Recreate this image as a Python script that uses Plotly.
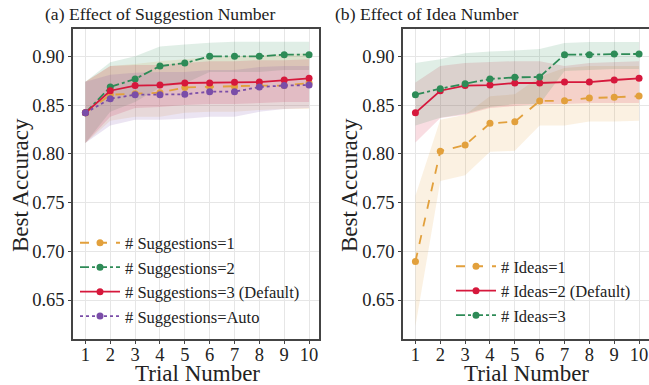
import plotly.graph_objects as go

trials = [1, 2, 3, 4, 5, 6, 7, 8, 9, 10]

# Panel (a): Effect of Suggestion Number
s1_mean = [0.842, 0.8606, 0.8616, 0.8627, 0.868, 0.8688, 0.869, 0.870, 0.870, 0.8726]
s1_up = [0.874, 0.890, 0.892, 0.895, 0.897, 0.899, 0.900, 0.901, 0.902, 0.903]
s1_lo = [0.811, 0.834, 0.838, 0.838, 0.842, 0.843, 0.843, 0.845, 0.846, 0.846]

s2_mean = [0.842, 0.8685, 0.8767, 0.890, 0.893, 0.900, 0.900, 0.900, 0.9017, 0.9017]
s2_up = [0.874, 0.894, 0.900, 0.910, 0.912, 0.914, 0.915, 0.915, 0.915, 0.915]
s2_lo = [0.811, 0.843, 0.853, 0.868, 0.872, 0.884, 0.884, 0.884, 0.886, 0.886]

s3_mean = [0.842, 0.8647, 0.870, 0.8705, 0.8726, 0.8726, 0.8733, 0.8736, 0.8757, 0.8774]
s3_up = [0.874, 0.890, 0.891, 0.891, 0.893, 0.895, 0.895, 0.896, 0.896, 0.897]
s3_lo = [0.811, 0.838, 0.847, 0.848, 0.850, 0.851, 0.851, 0.852, 0.853, 0.853]

sa_mean = [0.842, 0.8565, 0.8606, 0.8606, 0.861, 0.8637, 0.8637, 0.8685, 0.870, 0.8705]
sa_up = [0.874, 0.881, 0.883, 0.884, 0.884, 0.886, 0.886, 0.889, 0.890, 0.890]
sa_lo = [0.811, 0.829, 0.835, 0.835, 0.836, 0.838, 0.838, 0.843, 0.846, 0.847]

# Panel (b): Effect of Idea Number
i1_mean = [0.6895, 0.8027, 0.8089, 0.8312, 0.8329, 0.8541, 0.8545, 0.8572, 0.8579, 0.8592]
i1_up = [0.757, 0.835, 0.840, 0.859, 0.861, 0.879, 0.888, 0.890, 0.890, 0.890]
i1_lo = [0.623, 0.772, 0.778, 0.802, 0.803, 0.829, 0.829, 0.833, 0.833, 0.834]

i2_mean = [0.842, 0.8647, 0.870, 0.8705, 0.8726, 0.8726, 0.8736, 0.8736, 0.8757, 0.8774]
i2_up = [0.873, 0.890, 0.893, 0.894, 0.895, 0.895, 0.890, 0.893, 0.894, 0.895]
i2_lo = [0.8116, 0.8366, 0.840, 0.847, 0.849, 0.851, 0.851, 0.852, 0.852, 0.852]

i3_mean = [0.8606, 0.8668, 0.8719, 0.8767, 0.8784, 0.8788, 0.9017, 0.9017, 0.9024, 0.9024]
i3_up = [0.893, 0.897, 0.903, 0.905, 0.906, 0.9075, 0.9137, 0.9147, 0.9147, 0.9147]
i3_lo = [0.829, 0.837, 0.841, 0.848, 0.851, 0.851, 0.885, 0.886, 0.887, 0.887]

ORANGE = (226, 160, 60)
GREEN = (46, 139, 87)
RED = (214, 24, 60)
PURPLE = (122, 77, 168)

def hexc(c):
    return "rgb(%d,%d,%d)" % c

def fillc(c, a=0.15):
    return "rgba(%d,%d,%d,%.2f)" % (c[0], c[1], c[2], a)

FONT = "Liberation Serif"

fig = go.Figure()

panel_a = [
    ("# Suggestions=1", s1_mean, s1_up, s1_lo, ORANGE, "dash"),
    ("# Suggestions=2", s2_mean, s2_up, s2_lo, GREEN, "dashdot"),
    ("# Suggestions=3 (Default)", s3_mean, s3_up, s3_lo, RED, "solid"),
    ("# Suggestions=Auto", sa_mean, sa_up, sa_lo, PURPLE, "dot"),
]
panel_b = [
    ("# Ideas=1", i1_mean, i1_up, i1_lo, ORANGE, "dash"),
    ("# Ideas=2 (Default)", i2_mean, i2_up, i2_lo, RED, "solid"),
    ("# Ideas=3", i3_mean, i3_up, i3_lo, GREEN, "dashdot"),
]

for panel, xa, ya, leg in [(panel_a, "x", "y", "legend"), (panel_b, "x2", "y2", "legend2")]:
    for name, m, up, lo, c, dash in panel:
        fig.add_trace(go.Scatter(x=trials, y=up, mode="lines", line=dict(width=0),
                                 showlegend=False, hoverinfo="skip", xaxis=xa, yaxis=ya))
        fig.add_trace(go.Scatter(x=trials, y=lo, mode="lines", line=dict(width=0),
                                 fill="tonexty", fillcolor=fillc(c),
                                 showlegend=False, hoverinfo="skip", xaxis=xa, yaxis=ya))
    for name, m, up, lo, c, dash in panel:
        fig.add_trace(go.Scatter(x=trials, y=m, mode="lines+markers", name=name,
                                 line=dict(color=hexc(c), width=1.8, dash=dash),
                                 marker=dict(color=hexc(c), size=7),
                                 xaxis=xa, yaxis=ya, legend=leg))

W, H = 649, 385
def px_x(p):
    return p / W
def px_y(p):
    return (H - p) / H

axis_common = dict(
    showgrid=True, gridcolor="#e6e6e6", gridwidth=1,
    showline=True, linecolor="#444444", linewidth=1.5, mirror=True,
    ticks="outside", ticklen=3, tickcolor="#444444", tickwidth=1,
    tickfont=dict(family=FONT, size=18.5, color="#222222"),
    zeroline=False, automargin=False,
)

xticks = dict(tickmode="array", tickvals=trials, ticktext=[str(t) for t in trials],
              range=[0.5, 10.4], ticklabelstandoff=-5)
yticks = dict(tickmode="array", tickvals=[0.65, 0.70, 0.75, 0.80, 0.85, 0.90],
              ticktext=["0.65", "0.70", "0.75", "0.80", "0.85", "0.90"], range=[0.61, 0.928])

ydom = [px_y(339), px_y(29)]
leg_common = dict(xanchor="left", yanchor="top", bgcolor="rgba(0,0,0,0)",
                  font=dict(family=FONT, size=16.5, color="#222222"),
                  itemwidth=40, traceorder="normal")
fig.update_layout(
    width=W, height=H,
    margin=dict(l=0, r=0, t=0, b=0),
    paper_bgcolor="white", plot_bgcolor="white",
    font=dict(family=FONT, color="#222222"),
    xaxis=dict(domain=[px_x(73), px_x(319)], anchor="y", **xticks, **axis_common),
    yaxis=dict(domain=ydom, anchor="x", **yticks, **axis_common),
    xaxis2=dict(domain=[px_x(403), 1.0], anchor="y2", **xticks, **axis_common),
    yaxis2=dict(domain=ydom, anchor="x2", **yticks, **axis_common),
    legend=dict(x=px_x(75), y=px_y(225.5), **leg_common),
    legend2=dict(x=px_x(451), y=px_y(249), **leg_common),
    showlegend=True,
)

ann = [
    dict(text="(a) Effect of Suggestion Number", x=px_x(43), y=px_y(14), xanchor="left", yanchor="middle", size=17.6),
    dict(text="(b) Effect of Idea Number", x=px_x(333), y=px_y(14), xanchor="left", yanchor="middle", size=17.6),
    dict(text="Trial Number", x=px_x(197), y=px_y(373), xanchor="center", yanchor="middle", size=23),
    dict(text="Trial Number", x=px_x(526), y=px_y(373), xanchor="center", yanchor="middle", size=23),
]
for a in ann:
    fig.add_annotation(text=a["text"], x=a["x"], y=a["y"], xref="paper", yref="paper",
                       xanchor=a["xanchor"], yanchor=a["yanchor"], showarrow=False,
                       font=dict(family=FONT, size=a["size"], color="#222222"))
for xp in [20, 349]:
    fig.add_annotation(text="Best Accuracy", x=px_x(xp), y=px_y(185), xref="paper", yref="paper",
                       xanchor="center", yanchor="middle", showarrow=False, textangle=-90,
                       font=dict(family=FONT, size=23, color="#222222"))

fig.write_html("out.html")
